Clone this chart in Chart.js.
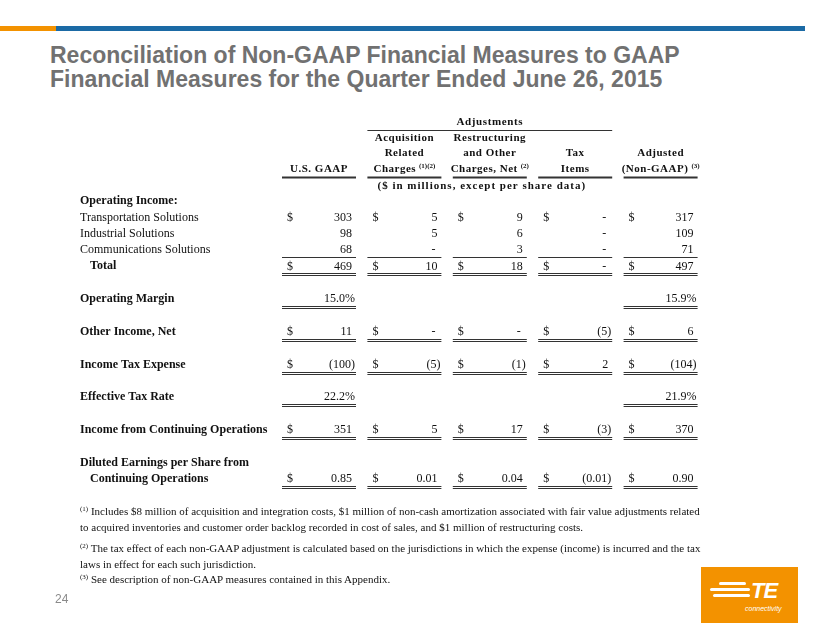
<!DOCTYPE html>
<html lang="en">
<head>
<meta charset="UTF-8">
<title>Reconciliation of Non-GAAP Financial Measures</title>
<style>
    body { margin: 0; background: #fff; }
    .slide { position: relative; width: 830px; height: 623px; overflow: hidden; background: #fff; }
    .bar-orange { position: absolute; left: 0; top: 26px; width: 56px; height: 5px; background: #f39200; }
    .bar-blue { position: absolute; left: 56px; top: 26px; width: 749px; height: 5px; background: #1b6aa5; }
    .title {
        position: absolute; left: 50px; top: 43px;
        font-family: 'Liberation Sans', Arial, sans-serif; font-weight: bold;
        font-size: 23px; line-height: 24px; color: #717171;
    }
    #table { position: absolute; left: 0; top: 0; }
    .note {
        position: absolute; left: 80px;
        font-family: 'Liberation Serif', 'Times New Roman', serif;
        font-size: 11px; line-height: 16px; color: #111;
    }
    .note sup { font-size: 7px; vertical-align: 4px; line-height: 0; }
    .page { position: absolute; left: 55px; top: 592px; font: 12px 'Liberation Sans', Arial, sans-serif; color: #8a8a8a; }
    .logo { position: absolute; left: 701px; top: 567px; width: 97px; height: 56px; background: #f39200; }
    .logo .s { position: absolute; height: 3px; background: #fff; border-radius: 2px; }
    .logo .te { position: absolute; left: 50px; top: 11px; font: italic bold 22px 'Liberation Sans', Arial, sans-serif; color: #fff; letter-spacing: -1px; }
    .logo .cn { position: absolute; left: 44px; top: 38px; font: italic 7px 'Liberation Sans', Arial, sans-serif; color: #fff; }
</style>
<script src="https://cdn.jsdelivr.net/npm/chart.js@4"></script>
</head>
<body>
<div class="slide">
    <div class="bar-orange"></div>
    <div class="bar-blue"></div>
    <div class="title">Reconciliation of Non-GAAP Financial Measures to GAAP<br>Financial Measures for the Quarter Ended June 26, 2015</div>

    <canvas id="table" width="830" height="623"></canvas>

    <div class="note" style="top:503px"><sup>(1)</sup> Includes $8 million of acquisition and integration costs, $1 million of non-cash amortization associated with fair value adjustments related<br>to acquired inventories and customer order backlog recorded in cost of sales, and $1 million of restructuring costs.</div>
    <div class="note" style="top:540px"><sup>(2)</sup> The tax effect of each non-GAAP adjustment is calculated based on the jurisdictions in which the expense (income) is incurred and the tax<br>laws in effect for each such jurisdiction.</div>
    <div class="note" style="top:571px"><sup>(3)</sup> See description of non-GAAP measures contained in this Appendix.</div>

    <div class="page">24</div>
    <div class="logo">
        <div class="s" style="left:18px;top:15px;width:27px"></div>
        <div class="s" style="left:9px;top:21px;width:40px"></div>
        <div class="s" style="left:12px;top:27px;width:37px"></div>
        <div class="te">TE</div>
        <div class="cn">connectivity</div>
    </div>
</div>

<script>
    // ---- data ----
    const columnTitles = [
        ['', '', 'U.S. GAAP'],
        ['Acquisition', 'Related', 'Charges'],
        ['Restructuring', 'and Other', 'Charges, Net'],
        ['', 'Tax', 'Items'],
        ['', 'Adjusted', '(Non-GAAP)']
    ];
    const columnNotes = ['', '(1)(2)', '(2)', '', '(3)'];
    const rowLabels = [
        ['Operating Income:'],
        ['Transportation Solutions'],
        ['Industrial Solutions'],
        ['Communications Solutions'],
        ['Total'],
        ['Operating Margin'],
        ['Other Income, Net'],
        ['Income Tax Expense'],
        ['Effective Tax Rate'],
        ['Income from Continuing Operations'],
        ['Diluted Earnings per Share from', 'Continuing Operations']
    ];
    const usGaap        = [null, 303, 98, 68, 469, 15.0, 11, -100, 22.2, 351, 0.85];
    const acquisition   = [null, 5, 5, 0, 10, null, 0, -5, null, 5, 0.01];
    const restructuring = [null, 9, 6, 3, 18, null, 0, -1, null, 17, 0.04];
    const taxItems      = [null, 0, 0, 0, 0, null, -5, 2, null, -3, -0.01];
    const adjusted      = [null, 317, 109, 71, 497, 15.9, 6, -104, 21.9, 370, 0.90];
    const columnValues = [usGaap, acquisition, restructuring, taxItems, adjusted];

    // ---- layout / style ----
    const rowSlot = [0, 1, 2, 3, 4, 6, 8, 10, 12, 14, 17];   // y-scale position of each row's value line
    const headSlot = [-3.85, -2.95, -1.95];                  // the three header lines
    const rowKind = ['head', 'dollar', 'plain', 'plain', 'dollar', 'pct', 'dollar', 'dollar', 'pct', 'dollar', 'eps'];
    const rowRule = [null, null, null, 'single', 'double', 'double', 'double', 'double', 'double', 'double', 'double'];
    const rowBold = [true, false, false, false, true, true, true, true, true, true, true];
    const rowIndent = [0, 0, 0, 0, 10, 0, 0, 0, 0, 0, 0];
    const SERIF = "'Liberation Serif', 'Times New Roman', serif";
    const LABEL_X = 80, HALF = 37, ROW_PX = 16.35, ROW0_PX = 201, COL0_PX = 319, COL_PX = 85.4;

    function fmt(v, kind) {
        if (kind === 'pct') return v.toFixed(1) + '%';
        if (v === 0) return '-';
        const s = kind === 'eps' ? Math.abs(v).toFixed(2) : String(Math.abs(v));
        return v < 0 ? '(' + s + ')' : s;
    }

    const tablePlugin = {
        id: 'tablePlugin',
        afterDatasetsDraw(chart) {
            const ctx = chart.ctx, x = chart.scales.x, y = chart.scales.y;
            const spacing = s => { if ('letterSpacing' in ctx) ctx.letterSpacing = s; };
            ctx.save();
            ctx.fillStyle = '#111';
            ctx.strokeStyle = '#333';
            ctx.lineWidth = 1;
            ctx.textBaseline = 'middle';

            const hline = (x1, x2, py) => {
                ctx.beginPath();
                ctx.moveTo(x1, Math.round(py) + 0.5);
                ctx.lineTo(x2, Math.round(py) + 0.5);
                ctx.stroke();
            };

            // header
            ctx.font = 'bold 11px ' + SERIF;
            spacing('0.6px');
            ctx.textAlign = 'center';
            const adjL = x.getPixelForValue(1) - HALF, adjR = x.getPixelForValue(3) + HALF;
            ctx.fillText('Adjustments', (adjL + adjR) / 2, y.getPixelForValue(-4.8));
            hline(adjL, adjR, y.getPixelForValue(-4.8) + 7);
            columnTitles.forEach((lines, c) => {
                const cx = x.getPixelForValue(c);
                lines.forEach((t, i) => {
                    if (!t) return;
                    const py = y.getPixelForValue(headSlot[i]);
                    ctx.font = 'bold 11px ' + SERIF;
                    spacing('0.5px');
                    if (columnNotes[c] && i === 2) {
                        const tw = ctx.measureText(t).width;
                        ctx.font = 'bold 7px ' + SERIF;
                        spacing('0px');
                        const nw = ctx.measureText(columnNotes[c]).width + 3;
                        const start = cx - (tw + nw) / 2;
                        ctx.textAlign = 'left';
                        ctx.fillText(columnNotes[c], start + tw + 3, py - 3);
                        ctx.font = 'bold 11px ' + SERIF;
                        spacing('0.5px');
                        ctx.fillText(t, start, py);
                        ctx.textAlign = 'center';
                    } else {
                        ctx.fillText(t, cx, py);
                    }
                });
                ctx.lineWidth = 2;
                hline(cx - HALF, cx + HALF, y.getPixelForValue(headSlot[2]) + 8);
                ctx.lineWidth = 1;
            });
            ctx.font = 'bold 11px ' + SERIF;
            spacing('1px');
            ctx.fillText('($ in millions, except per share data)', (adjL + adjR) / 2 - 8, y.getPixelForValue(-1) + 2);
            spacing('0px');

            // row labels
            ctx.textAlign = 'left';
            rowLabels.forEach((lines, r) => {
                ctx.font = (rowBold[r] ? 'bold ' : '') + '12px ' + SERIF;
                lines.forEach((t, i) => {
                    const slot = rowSlot[r] - (lines.length - 1 - i);
                    const ind = i > 0 ? 10 : rowIndent[r];
                    ctx.fillText(t, LABEL_X + ind, y.getPixelForValue(slot));
                });
            });

            // cells, positioned by the chart's own point elements
            ctx.font = '12px ' + SERIF;
            chart.data.datasets.forEach((ds, c) => {
                chart.getDatasetMeta(c).data.forEach((pt, i) => {
                    const raw = ds.data[i];
                    const r = raw.row, kind = rowKind[r];
                    const left = pt.x - HALF, right = pt.x + HALF;
                    ctx.textAlign = 'left';
                    if (kind === 'dollar' || kind === 'eps') ctx.fillText('$', left + 5, pt.y);
                    ctx.textAlign = 'right';
                    const s = fmt(raw.v, kind);
                    const pad = s.endsWith(')') || s.endsWith('%') ? 1 : (s === '-' ? 6 : 4);
                    ctx.fillText(s, right - pad, pt.y);
                    if (rowRule[r] === 'single') {
                        hline(left, right, pt.y + 7);
                    } else if (rowRule[r] === 'double') {
                        hline(left, right, pt.y + 7);
                        hline(left, right, pt.y + 9);
                    }
                });
            });
            ctx.restore();
        }
    };

    const datasets = columnValues.map((vals, c) => ({
        label: columnTitles[c].join(' ').trim(),
        data: vals.map((v, r) => v === null ? null : { x: c, y: rowSlot[r], v: v, row: r }).filter(p => p),
        pointRadius: 0,
        showLine: false
    }));

    new Chart(document.getElementById('table'), {
        type: 'scatter',
        data: { datasets },
        options: {
            responsive: false,
            animation: false,
            events: [],
            layout: { padding: 0 },
            plugins: { legend: { display: false }, tooltip: { enabled: false } },
            scales: {
                x: { type: 'linear', display: false, min: -COL0_PX / COL_PX, max: (830 - COL0_PX) / COL_PX },
                y: { type: 'linear', display: false, reverse: true, min: -ROW0_PX / ROW_PX, max: (623 - ROW0_PX) / ROW_PX }
            }
        },
        plugins: [tablePlugin]
    });
</script>
</body>
</html>
